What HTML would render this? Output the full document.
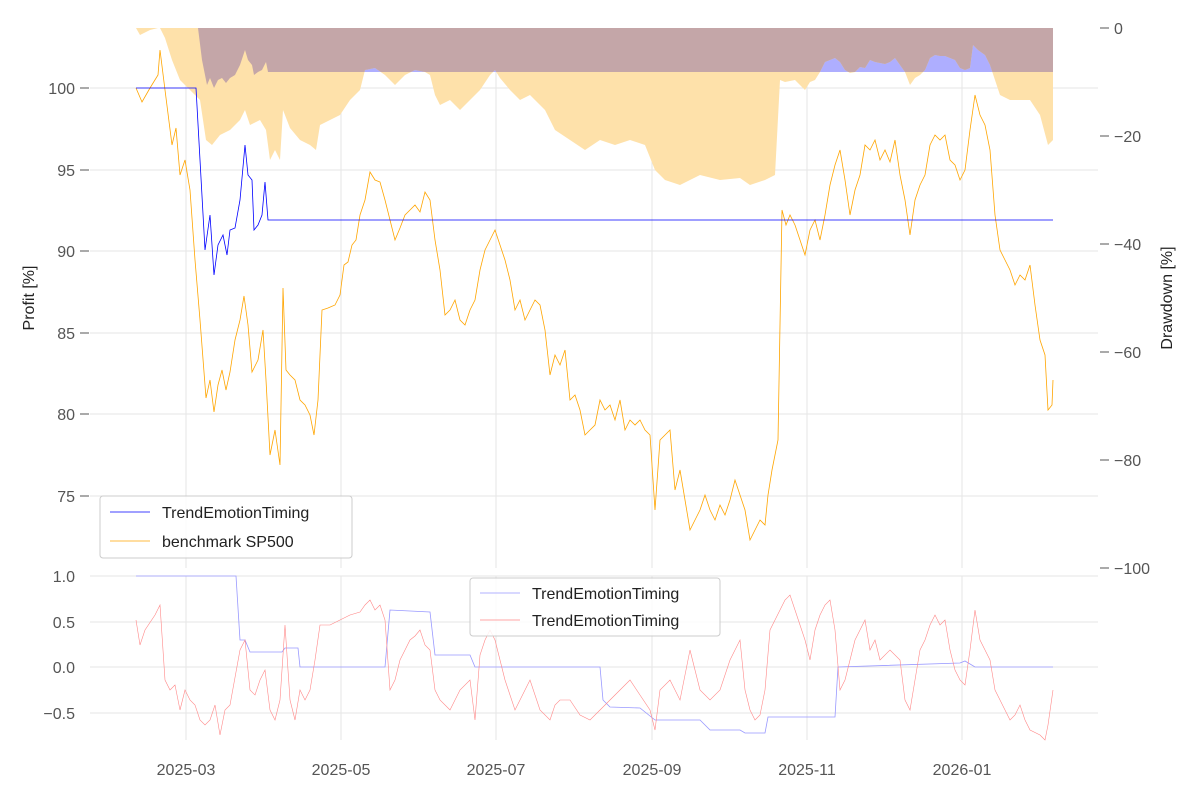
<!DOCTYPE html>
<html><head><meta charset="utf-8"><style>
html,body{margin:0;padding:0;background:#fff;}
svg text{font-family:"Liberation Sans",sans-serif;fill:#555;}
</style></head><body>
<svg width="1200" height="800" viewBox="0 0 1200 800" xmlns="http://www.w3.org/2000/svg">
<defs>
<clipPath id="topc"><rect x="90" y="28" width="1008" height="540"/></clipPath>
<clipPath id="bluec"><polygon points="136,28 198,28 202,60 207,85 210,78 214,88 218,80 222,78 226,83 230,78 235,75 240,65 245,50 248,60 252,65 254,75 258,72 262,70 266,62 268,72 1053,72 1053,28"/></clipPath>
</defs>
<g stroke="#e5e5e5" stroke-width="1">
<line x1="186" y1="28" x2="186" y2="568"/><line x1="341" y1="28" x2="341" y2="568"/><line x1="496" y1="28" x2="496" y2="568"/><line x1="652" y1="28" x2="652" y2="568"/><line x1="807" y1="28" x2="807" y2="568"/><line x1="962" y1="28" x2="962" y2="568"/>
<line x1="90" y1="88" x2="1098" y2="88"/><line x1="90" y1="170" x2="1098" y2="170"/><line x1="90" y1="251" x2="1098" y2="251"/><line x1="90" y1="333" x2="1098" y2="333"/><line x1="90" y1="414" x2="1098" y2="414"/><line x1="90" y1="496" x2="1098" y2="496"/>
<line x1="186" y1="576" x2="186" y2="740"/><line x1="341" y1="576" x2="341" y2="740"/><line x1="496" y1="576" x2="496" y2="740"/><line x1="652" y1="576" x2="652" y2="740"/><line x1="807" y1="576" x2="807" y2="740"/><line x1="962" y1="576" x2="962" y2="740"/>
<line x1="90" y1="576" x2="1098" y2="576"/><line x1="90" y1="622" x2="1098" y2="622"/><line x1="90" y1="667" x2="1098" y2="667"/><line x1="90" y1="713" x2="1098" y2="713"/>
</g>
<g clip-path="url(#topc)">
<polygon fill="#aeaeff" points="136,28 198,28 202,60 207,85 210,78 214,88 218,80 222,78 226,83 230,78 235,75 240,65 245,50 248,60 252,65 254,75 258,72 262,70 266,62 268,72 1053,72 1053,28"/>
<polygon fill="#fee1aa" points="136,28 140,35 150,30 158,28 160,28 165,38 172,60 180,80 190,90 200,100 206,140 212,145 220,135 230,130 240,120 245,110 250,125 260,120 266,130 270,160 275,150 280,160 283,110 290,128 300,140 310,145 316,150 320,125 330,120 340,115 350,100 360,90 365,70 375,68 385,75 395,85 405,75 415,70 425,72 430,75 435,95 440,105 450,100 460,110 470,100 480,90 490,75 495,70 500,78 510,90 520,100 530,95 545,110 555,130 570,140 585,150 600,140 615,145 630,140 645,145 655,170 665,180 680,185 700,175 720,180 740,178 750,185 765,180 775,175 780,80 785,82 795,80 800,85 805,90 810,82 815,80 820,72 825,62 830,60 835,58 840,62 845,70 850,73 855,72 860,67 865,68 870,60 875,62 880,63 885,64 890,62 895,58 900,65 905,72 910,85 915,78 920,75 925,70 930,58 935,55 940,56 945,56 955,60 960,68 965,70 970,68 973,45 978,50 985,55 990,65 995,80 1000,95 1010,100 1020,100 1030,100 1040,115 1048,145 1053,140 1053,28"/>
<g clip-path="url(#bluec)"><polygon fill="#c4a6a8" points="136,28 140,35 150,30 158,28 160,28 165,38 172,60 180,80 190,90 200,100 206,140 212,145 220,135 230,130 240,120 245,110 250,125 260,120 266,130 270,160 275,150 280,160 283,110 290,128 300,140 310,145 316,150 320,125 330,120 340,115 350,100 360,90 365,70 375,68 385,75 395,85 405,75 415,70 425,72 430,75 435,95 440,105 450,100 460,110 470,100 480,90 490,75 495,70 500,78 510,90 520,100 530,95 545,110 555,130 570,140 585,150 600,140 615,145 630,140 645,145 655,170 665,180 680,185 700,175 720,180 740,178 750,185 765,180 775,175 780,80 785,82 795,80 800,85 805,90 810,82 815,80 820,72 825,62 830,60 835,58 840,62 845,70 850,73 855,72 860,67 865,68 870,60 875,62 880,63 885,64 890,62 895,58 900,65 905,72 910,85 915,78 920,75 925,70 930,58 935,55 940,56 945,56 955,60 960,68 965,70 970,68 973,45 978,50 985,55 990,65 995,80 1000,95 1010,100 1020,100 1030,100 1040,115 1048,145 1053,140 1053,28"/></g>
</g>
<polyline fill="none" stroke="#ffa500" stroke-width="0.8" points="136,88 142,102 150,88 158,75 160,50 165,90 172,145 176,128 180,175 185,160 190,190 195,260 200,320 206,398 210,380 214,412 218,385 222,370 226,390 230,372 235,340 240,320 244,296 248,325 252,372 258,360 263,330 266,380 270,455 275,430 280,465 283,288 286,370 290,375 295,380 300,400 305,405 310,415 314,435 318,400 322,310 328,308 335,305 340,295 344,265 348,262 352,245 356,240 360,215 365,200 370,172 375,180 380,182 385,200 390,220 395,240 400,228 405,215 410,210 415,205 420,212 425,192 430,200 435,240 440,270 445,315 450,310 455,300 460,320 465,325 470,310 475,300 480,270 485,250 490,240 495,230 500,245 505,260 510,280 515,310 520,300 525,320 530,310 535,300 540,305 545,330 550,375 555,355 560,365 565,350 570,400 575,395 580,410 585,435 590,430 595,425 600,400 605,410 610,405 615,420 620,400 625,430 630,420 635,425 640,420 645,430 650,435 655,510 660,440 665,435 670,430 675,490 680,470 685,500 690,530 695,520 700,510 705,495 710,510 715,520 720,505 725,515 730,500 735,480 740,495 745,510 750,540 755,530 760,520 765,525 768,495 772,470 778,440 782,210 786,225 790,215 795,225 800,240 805,255 810,230 815,220 820,240 825,215 830,185 835,165 840,150 845,180 850,215 855,190 860,175 865,145 870,150 875,140 880,160 885,150 890,162 895,140 900,175 905,200 910,235 915,200 920,185 925,175 930,145 935,135 940,140 945,135 950,160 955,165 960,180 965,170 970,130 975,95 980,115 985,125 990,150 995,215 1000,250 1005,260 1010,270 1015,285 1020,275 1025,280 1030,265 1035,305 1040,340 1045,355 1048,410 1052,405 1053,380"/>
<polyline fill="none" stroke="#0000ff" stroke-width="0.8" points="136,88 196,88 200,160 205,250 210,215 214,275 218,245 223,235 227,255 230,230 235,228 240,200 245,145 248,175 252,180 254,230 258,225 262,215 265,182 268,220 1053,220"/>
<polyline fill="none" stroke="#9999ff" stroke-width="0.8" points="136,576 236,576 240,640 245,640 250,652 282,652 285,648 298,648 300,667 385,667 390,610 430,612 435,655 470,655 475,667 600,667 603,700 610,707 640,708 655,720 700,720 710,730 740,730 745,733 765,733 768,717 835,717 838,667 960,663 965,661 975,667 1053,667"/>
<polyline fill="none" stroke="#ff8888" stroke-width="0.6" points="136,620 140,645 145,630 155,615 160,605 165,680 170,690 175,685 180,710 185,690 190,700 195,705 200,720 205,725 210,720 215,705 220,735 225,710 230,705 240,650 245,640 250,690 255,695 260,680 265,670 270,710 275,720 280,700 285,625 290,700 295,720 300,690 305,700 310,690 315,660 320,625 330,625 340,620 350,615 360,612 365,605 370,600 375,610 380,605 385,620 390,690 395,680 400,660 405,650 410,640 415,636 420,630 425,645 430,650 435,690 440,700 450,710 460,690 470,680 475,720 480,655 485,640 490,630 495,640 500,660 505,680 510,695 515,710 520,700 525,690 530,680 535,695 540,710 550,720 555,705 560,700 570,700 580,715 590,720 600,710 610,700 620,690 630,680 640,695 650,710 655,730 660,690 670,680 680,700 690,650 700,690 710,700 720,690 730,660 740,640 745,690 750,710 755,720 760,715 765,690 770,630 775,620 780,610 785,600 790,595 795,610 800,625 805,640 810,660 815,630 820,615 825,605 830,600 835,630 840,690 845,680 850,660 855,640 860,630 865,620 870,650 875,640 880,660 890,650 900,660 905,700 910,710 915,680 920,650 925,640 930,625 935,615 940,625 945,620 950,650 955,670 960,680 965,685 970,650 975,610 980,640 985,650 990,660 995,690 1000,700 1005,710 1010,720 1015,715 1020,705 1025,720 1030,730 1040,735 1045,740 1048,725 1053,690"/>
<g stroke="#555" stroke-width="1">
<line x1="80" y1="88" x2="89" y2="88"/><line x1="80" y1="170" x2="89" y2="170"/><line x1="80" y1="251" x2="89" y2="251"/><line x1="80" y1="333" x2="89" y2="333"/><line x1="80" y1="414" x2="89" y2="414"/><line x1="80" y1="496" x2="89" y2="496"/>
<line x1="1100" y1="28" x2="1109" y2="28"/><line x1="1100" y1="136" x2="1109" y2="136"/><line x1="1100" y1="244" x2="1109" y2="244"/><line x1="1100" y1="352" x2="1109" y2="352"/><line x1="1100" y1="460" x2="1109" y2="460"/><line x1="1100" y1="568" x2="1109" y2="568"/>
</g>
<g font-size="16" text-anchor="end">
<text x="75" y="94">100</text><text x="75" y="176">95</text><text x="75" y="257">90</text><text x="75" y="339">85</text><text x="75" y="420">80</text><text x="75" y="502">75</text>
<text x="75" y="582">1.0</text><text x="75" y="628">0.5</text><text x="75" y="673">0.0</text><text x="75" y="719">−0.5</text>
</g>
<g font-size="16">
<text x="1114" y="34">0</text><text x="1114" y="142">−20</text><text x="1114" y="250">−40</text><text x="1114" y="358">−60</text><text x="1114" y="466">−80</text><text x="1114" y="574">−100</text>
</g>
<g font-size="16" text-anchor="middle">
<text x="186" y="775">2025-03</text><text x="341" y="775">2025-05</text><text x="496" y="775">2025-07</text><text x="652" y="775">2025-09</text><text x="807" y="775">2025-11</text><text x="962" y="775">2026-01</text>
</g>
<text x="34" y="298" font-size="16" text-anchor="middle" transform="rotate(-90 34 298)" style="fill:#222">Profit [%]</text>
<text x="1172" y="298" font-size="16" text-anchor="middle" transform="rotate(-90 1172 298)" style="fill:#222">Drawdown [%]</text>
<rect x="100" y="496" width="252" height="62" rx="3" fill="#fff" fill-opacity="0.85" stroke="#ccc"/>
<line x1="110" y1="512" x2="150" y2="512" stroke="#0000ff" stroke-width="0.8"/>
<line x1="110" y1="541" x2="150" y2="541" stroke="#ffa500" stroke-width="0.8"/>
<text x="162" y="518" font-size="16" style="fill:#222">TrendEmotionTiming</text>
<text x="162" y="547" font-size="16" style="fill:#222">benchmark SP500</text>
<rect x="470" y="578" width="250" height="58" rx="3" fill="#fff" fill-opacity="0.85" stroke="#ccc"/>
<line x1="480" y1="593" x2="520" y2="593" stroke="#9999ff" stroke-width="0.8"/>
<line x1="480" y1="620" x2="520" y2="620" stroke="#ff8888" stroke-width="0.8"/>
<text x="532" y="599" font-size="16" style="fill:#222">TrendEmotionTiming</text>
<text x="532" y="626" font-size="16" style="fill:#222">TrendEmotionTiming</text>
</svg>
</body></html>
